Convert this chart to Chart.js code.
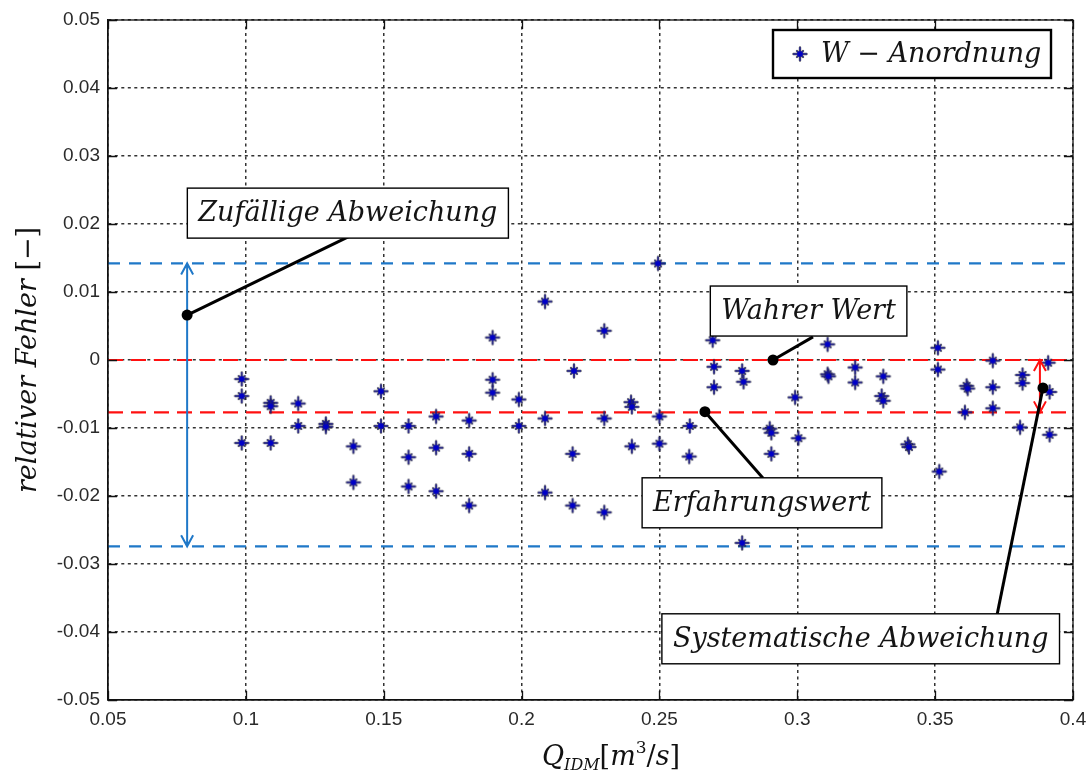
<!DOCTYPE html>
<html>
<head>
<meta charset="utf-8">
<script src="https://cdn.jsdelivr.net/npm/chart.js@4.4.1/dist/chart.umd.min.js"></script>
<style>
  html, body { margin: 0; padding: 0; background: #fff; }
  canvas { display: block; }
</style>
</head>
<body>
<canvas id="chart" width="1090" height="774"></canvas>
<script>
// flow rate Q_IDM [m^3/s] and relative error [-] of the W arrangement
const flow = [
  0.0985, 0.0985, 0.0985, 0.109, 0.109, 0.109, 0.119, 0.119, 0.129, 0.129,
  0.139, 0.139, 0.149, 0.149, 0.159, 0.159, 0.159, 0.169, 0.169, 0.169,
  0.181, 0.181, 0.181, 0.1895, 0.1895, 0.1895, 0.199, 0.199, 0.2085, 0.2085,
  0.2085, 0.219, 0.2185, 0.2185, 0.230, 0.230, 0.230, 0.2397, 0.240, 0.240,
  0.2495, 0.250, 0.250, 0.261, 0.2608, 0.2693, 0.2698, 0.2698, 0.280, 0.2805,
  0.280, 0.290, 0.2906, 0.2906, 0.2992, 0.3004, 0.311, 0.311, 0.3113, 0.321,
  0.321, 0.3312, 0.3306, 0.3312, 0.3401, 0.3405, 0.351, 0.351, 0.3515, 0.3614,
  0.3618, 0.3608, 0.3709, 0.3709, 0.3709, 0.3817, 0.3817, 0.3808, 0.391, 0.3915,
  0.3915
];
const relError = [
  -0.0028, -0.0053, -0.0122, -0.0063, -0.0068, -0.0122, -0.0064, -0.0097, -0.0094, -0.0098,
  -0.0127, -0.0180, -0.0046, -0.0097, -0.0097, -0.0143, -0.0186, -0.0083, -0.0129, -0.0193,
  -0.0089, -0.0138, -0.0214, 0.0033, -0.0029, -0.0048, -0.0058, -0.0097, 0.0086, -0.0086,
  -0.0195, -0.0016, -0.0138, -0.0214, 0.0043, -0.0086, -0.0224, -0.0062, -0.0069, -0.0127,
  0.0142, -0.0083, -0.0123, -0.0097, -0.0142, 0.0029, -0.0010, -0.0040, -0.0016, -0.0032,
  -0.0269, -0.0101, -0.0107, -0.0138, -0.0055, -0.0115, 0.0023, -0.0021, -0.0024, -0.0011,
  -0.0033, -0.0024, -0.0053, -0.0060, -0.0124, -0.0128, 0.0018, -0.0014, -0.0164, -0.0038,
  -0.0042, -0.0077, -0.0001, -0.0040, -0.0071, -0.0022, -0.0034, -0.0099, -0.0004, -0.0047,
  -0.0110
];

// axis ticks
const xTicks = [0.05, 0.1, 0.15, 0.2, 0.25, 0.3, 0.35, 0.4];
const yTicks = [0.05, 0.04, 0.03, 0.02, 0.01, 0, -0.01, -0.02, -0.03, -0.04, -0.05];

// horizontal reference levels
const scatterBand = [0.0142, -0.0274];   // spread of the measurements
const trueValue = 0;                     // wahrer Wert
const meanValue = -0.0077;               // Erfahrungswert

const seriesLabel = 'W − Anordnung';

const BLUE = '#1f78c8';
const RED = '#ff1010';

function makeStar() {
  const c = document.createElement('canvas');
  c.width = 18; c.height = 18;
  const g = c.getContext('2d');
  g.translate(9, 9);
  g.lineCap = 'round';
  const arms = () => {
    g.beginPath();
    g.moveTo(-6.5, 0); g.lineTo(6.5, 0);
    g.moveTo(0, -6.5); g.lineTo(0, 6.5);
    g.moveTo(-3, -3); g.lineTo(3, 3);
    g.moveTo(-3, 3); g.lineTo(3, -3);
    g.stroke();
  };
  g.strokeStyle = 'rgba(40,40,50,0.8)';
  g.lineWidth = 2.4;
  arms();
  g.strokeStyle = '#1515b0';
  g.lineWidth = 1;
  arms();
  g.fillStyle = '#0000c8';
  g.beginPath(); g.arc(0, 0, 2.8, 0, Math.PI * 2); g.fill();
  return c;
}
const star = makeStar();

function hline(y) {
  return [{ x: xTicks[0], y: y }, { x: xTicks[xTicks.length - 1], y: y }];
}
function refLine(y, color, dash) {
  return {
    type: 'line', data: hline(y), borderColor: color, borderWidth: 2.2,
    borderDash: dash, pointRadius: 0, showLine: true, fill: false
  };
}

const serif = '"DejaVu Serif", "Liberation Serif", serif';
const noteFont = 'italic 27px ' + serif;

// callouts: box centre, anchor dot and end of the leader line (data units)
const callouts = [
  { text: 'Zufällige Abweichung', box: [0.137, 0.0216], dot: [0.0787, 0.0066], tip: [0.1371, 0.0181] },
  { text: 'Wahrer Wert', box: [0.3041, 0.0072], dot: [0.2912, 0], tip: [0.3057, 0.0034] },
  { text: 'Erfahrungswert', box: [0.2872, -0.0210], dot: [0.2665, -0.0076], tip: [0.2876, -0.0174] },
  { text: 'Systematische Abweichung', box: [0.3230, -0.0410], dot: [0.3891, -0.0041], tip: [0.3725, -0.0374] }
];
const spreadArrowX = 0.0787;
const biasArrowX = 0.3880;

function arrow(ctx, x, y1, y2, color) {
  ctx.save();
  ctx.strokeStyle = color;
  ctx.lineWidth = 2;
  ctx.beginPath();
  ctx.moveTo(x, y1); ctx.lineTo(x, y2);
  const d = y2 > y1 ? 1 : -1;
  ctx.moveTo(x - 6, y1 + d * 11); ctx.lineTo(x, y1); ctx.lineTo(x + 6, y1 + d * 11);
  ctx.moveTo(x - 6, y2 - d * 11); ctx.lineTo(x, y2); ctx.lineTo(x + 6, y2 - d * 11);
  ctx.stroke();
  ctx.restore();
}

const framePlugin = {
  id: 'frame',
  afterDatasetsDraw(chart) {
    const { ctx, chartArea: a, scales } = chart;
    ctx.save();
    ctx.strokeStyle = '#111';
    ctx.lineWidth = 1.3;
    ctx.strokeRect(a.left, a.top, a.right - a.left, a.bottom - a.top);
    // inward ticks on all four sides
    ctx.beginPath();
    xTicks.forEach(v => {
      const px = Math.round(scales.x.getPixelForValue(v)) + 0.5;
      ctx.moveTo(px, a.bottom); ctx.lineTo(px, a.bottom - 9);
      ctx.moveTo(px, a.top); ctx.lineTo(px, a.top + 9);
    });
    yTicks.forEach(v => {
      const py = Math.round(scales.y.getPixelForValue(v)) + 0.5;
      ctx.moveTo(a.left, py); ctx.lineTo(a.left + 9, py);
      ctx.moveTo(a.right, py); ctx.lineTo(a.right - 9, py);
    });
    ctx.stroke();
    ctx.restore();
  }
};

const notesPlugin = {
  id: 'notes',
  afterDatasetsDraw(chart) {
    const { ctx, chartArea: a, scales: { x, y } } = chart;
    ctx.save();

    arrow(ctx, x.getPixelForValue(spreadArrowX), y.getPixelForValue(scatterBand[0]),
          y.getPixelForValue(scatterBand[1]), BLUE);
    arrow(ctx, x.getPixelForValue(biasArrowX), y.getPixelForValue(trueValue),
          y.getPixelForValue(meanValue), RED);

    ctx.font = noteFont;
    ctx.textAlign = 'center';
    ctx.textBaseline = 'middle';
    callouts.forEach(c => {
      const dx = x.getPixelForValue(c.dot[0]), dy = y.getPixelForValue(c.dot[1]);
      const tx = x.getPixelForValue(c.tip[0]), ty = y.getPixelForValue(c.tip[1]);
      ctx.strokeStyle = '#000';
      ctx.lineWidth = 3;
      ctx.beginPath(); ctx.moveTo(dx, dy); ctx.lineTo(tx, ty); ctx.stroke();
      ctx.fillStyle = '#000';
      ctx.beginPath(); ctx.arc(dx, dy, 5.5, 0, Math.PI * 2); ctx.fill();

      const bx = x.getPixelForValue(c.box[0]), by = y.getPixelForValue(c.box[1]);
      const w = ctx.measureText(c.text).width + 22, h = 50;
      ctx.fillStyle = '#fff';
      ctx.fillRect(bx - w / 2, by - h / 2, w, h);
      ctx.lineWidth = 1.4;
      ctx.strokeRect(bx - w / 2, by - h / 2, w, h);
      ctx.fillStyle = '#141414';
      ctx.fillText(c.text, bx, by + 1);
    });

    // legend box in the upper right corner
    const lw = 278, lh = 48;
    const lx = a.right - 22 - lw, ly = a.top + 10;
    ctx.fillStyle = '#fff';
    ctx.fillRect(lx, ly, lw, lh);
    ctx.strokeStyle = '#000';
    ctx.lineWidth = 2.4;
    ctx.strokeRect(lx, ly, lw, lh);
    ctx.drawImage(star, lx + 27 - 9, ly + lh / 2 - 9);
    ctx.textAlign = 'left';
    ctx.fillStyle = '#141414';
    ctx.fillText(seriesLabel, lx + 48, ly + lh / 2 + 1);

    // axis titles
    ctx.fillStyle = '#111';
    ctx.textBaseline = 'alphabetic';
    const parts = [
      ['Q', 'italic 27px ' + serif, 0],
      ['IDM', 'italic 16px ' + serif, 5],
      ['[', '27px ' + serif, 0],
      ['m', 'italic 27px ' + serif, 0],
      ['3', '17px ' + serif, -12],
      ['/', '27px ' + serif, 0],
      ['s', 'italic 27px ' + serif, 0],
      [']', '27px ' + serif, 0]
    ];
    let total = 0;
    parts.forEach(p => { ctx.font = p[1]; total += ctx.measureText(p[0]).width; });
    let cx = 611 - total / 2;
    const base = 765;
    parts.forEach(p => {
      ctx.font = p[1];
      ctx.fillText(p[0], cx, base + p[2]);
      cx += ctx.measureText(p[0]).width;
    });

    ctx.translate(36, 360);
    ctx.rotate(-Math.PI / 2);
    const yParts = [['relativer Fehler ', 'italic 27px ' + serif], ['[−]', '27px ' + serif]];
    total = 0;
    yParts.forEach(p => { ctx.font = p[1]; total += ctx.measureText(p[0]).width; });
    cx = -total / 2;
    yParts.forEach(p => {
      ctx.font = p[1];
      ctx.fillText(p[0], cx, 0);
      cx += ctx.measureText(p[0]).width;
    });
    ctx.restore();
  }
};

const tickFont = { family: '"Liberation Sans", Arial, sans-serif', size: 19 };
const fmt = v => String(Number(v.toFixed(3)));

new Chart(document.getElementById('chart'), {
  type: 'scatter',
  data: {
    datasets: [
      {
        label: seriesLabel,
        data: flow.map((q, i) => ({ x: q, y: relError[i] })),
        pointStyle: star,
        pointRadius: 9,
        pointHoverRadius: 9
      },
      refLine(trueValue, RED, [15, 8]),
      refLine(meanValue, RED, [15, 8]),
      refLine(scatterBand[0], BLUE, [12, 9]),
      refLine(scatterBand[1], BLUE, [12, 9])
    ]
  },
  options: {
    responsive: false,
    animation: false,
    events: [],
    layout: { padding: { top: 20, right: 17, left: 0, bottom: 0 } },
    plugins: { legend: { display: false }, tooltip: { enabled: false } },
    scales: {
      x: {
        type: 'linear',
        min: 0.05, max: 0.4,
        afterBuildTicks: s => { s.ticks = xTicks.map(v => ({ value: v })); },
        afterFit: s => { s.height = 74; s.paddingLeft = 0; s.paddingRight = 0; },
        ticks: { callback: fmt, color: '#2a2a2a', font: tickFont, padding: 8, maxRotation: 0 },
        grid: { color: '#333', lineWidth: 1.5, drawTicks: false },
        border: { color: '#111', width: 1.3, dash: [3, 3.5] }
      },
      y: {
        type: 'linear',
        min: -0.05, max: 0.05,
        afterBuildTicks: s => { s.ticks = yTicks.map(v => ({ value: v })); },
        afterFit: s => { s.width = 108; s.paddingTop = 0; s.paddingBottom = 0; },
        ticks: { callback: fmt, color: '#2a2a2a', font: tickFont, padding: 8 },
        grid: { color: '#333', lineWidth: 1.5, drawTicks: false },
        border: { color: '#111', width: 1.3, dash: [3, 3.5] }
      }
    }
  },
  plugins: [framePlugin, notesPlugin]
});
</script>
</body>
</html>
